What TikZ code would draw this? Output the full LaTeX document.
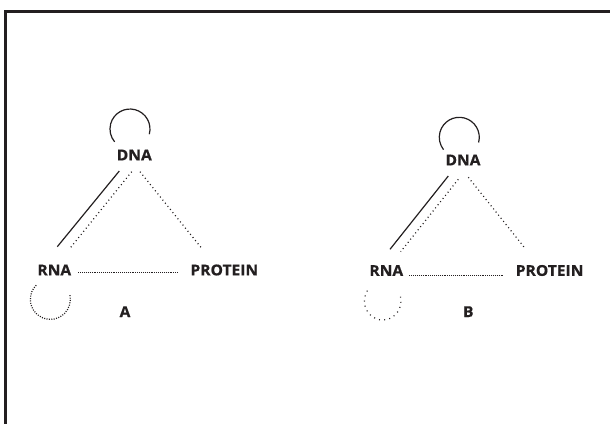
\documentclass[tikz,border=0pt]{standalone}
\usepackage{fontspec}
\setmainfont{Open Sans}[FakeStretch=1.04, BoldFeatures={FakeBold=0.6}]
\usetikzlibrary{calc}
\definecolor{ink}{HTML}{231F20}
\tikzset{
  lbl/.style={inner sep=0pt, font=\fontsize{15}{17}\selectfont\bfseries, text=ink},
  solidline/.style={draw=ink, line width=1.2pt},
  dotline/.style={draw=ink, line width=1.2pt, dash pattern=on 1pt off 3pt},
  finedots/.style={draw=ink, line width=1pt, dash pattern=on 0.7pt off 1.2pt},
  loopdense/.style={draw=ink, line width=1.2pt, dash pattern=on 1pt off 1.4pt},
  loopsparse/.style={draw=ink, line width=1.2pt, dash pattern=on 1pt off 4.2pt},
  frameline/.style={draw=ink, line width=2.5pt}
}
\begin{document}
\begin{tikzpicture}[x=1pt,y=-1pt]
\useasboundingbox (0,0) rectangle (610,423);
\draw[frameline] (5.3,425) -- (5.3,11.3) -- (612,11.3);
% Panel A
\node[lbl] (dnaA) at (134.3,155) {DNA};
\node[lbl] (rnaA) at (54.3,270) {RNA};
\node[lbl] (protA) at (224.3,270) {PROTEIN};
\node[lbl] (labA) at (125,311.7) {A};
\draw[solidline] ($(dnaA)+(-15,16)$) -- ($(rnaA)+(3,-23.3)$);
\draw[dotline] ($(dnaA)+(-2.6,16.7)$) -- ($(rnaA)+(15.7,-21.7)$);
\draw[dotline] ($(dnaA)+(5.7,16.7)$) -- ($(protA)+(-22.6,-21.7)$);
\draw[finedots] ($(rnaA)+(24,2.7)$) -- ($(protA)+(-46,2.7)$);
\draw[solidline] ($(dnaA)+(15,-20.8)$) arc[start angle=-15, end angle=220, radius=20pt];
\draw[loopdense] ($(rnaA)+(-18.1,15.2)$) arc[start angle=135, end angle=372, radius=20pt];
% Panel B
\node[lbl] (dnaB) at (463,160) {DNA};
\node[lbl] (rnaB) at (386.3,270.5) {RNA};
\node[lbl] (protB) at (549.6,270.5) {PROTEIN};
\node[lbl] (labB) at (468.3,311.7) {B};
\draw[solidline] ($(dnaB)+(-14.7,16)$) -- ($(rnaB)+(3.7,-21.2)$);
\draw[dotline] ($(dnaB)+(-4.7,19.3)$) -- ($(rnaB)+(14.4,-18.8)$);
\draw[dotline] ($(dnaB)+(5.3,17.3)$) -- ($(protB)+(-24.6,-22.2)$);
\draw[finedots] ($(rnaB)+(23,4.5)$) -- ($(protB)+(-45.6,4.5)$);
\draw[solidline] ($(dnaB)+(15.6,-17.5)$) arc[start angle=-15, end angle=218, radius=20pt];
\draw[loopsparse] ($(rnaB)+(-18.95,20.15)$) arc[start angle=147, end angle=373, x radius=18.3pt, y radius=19pt];
\end{tikzpicture}
\end{document}
